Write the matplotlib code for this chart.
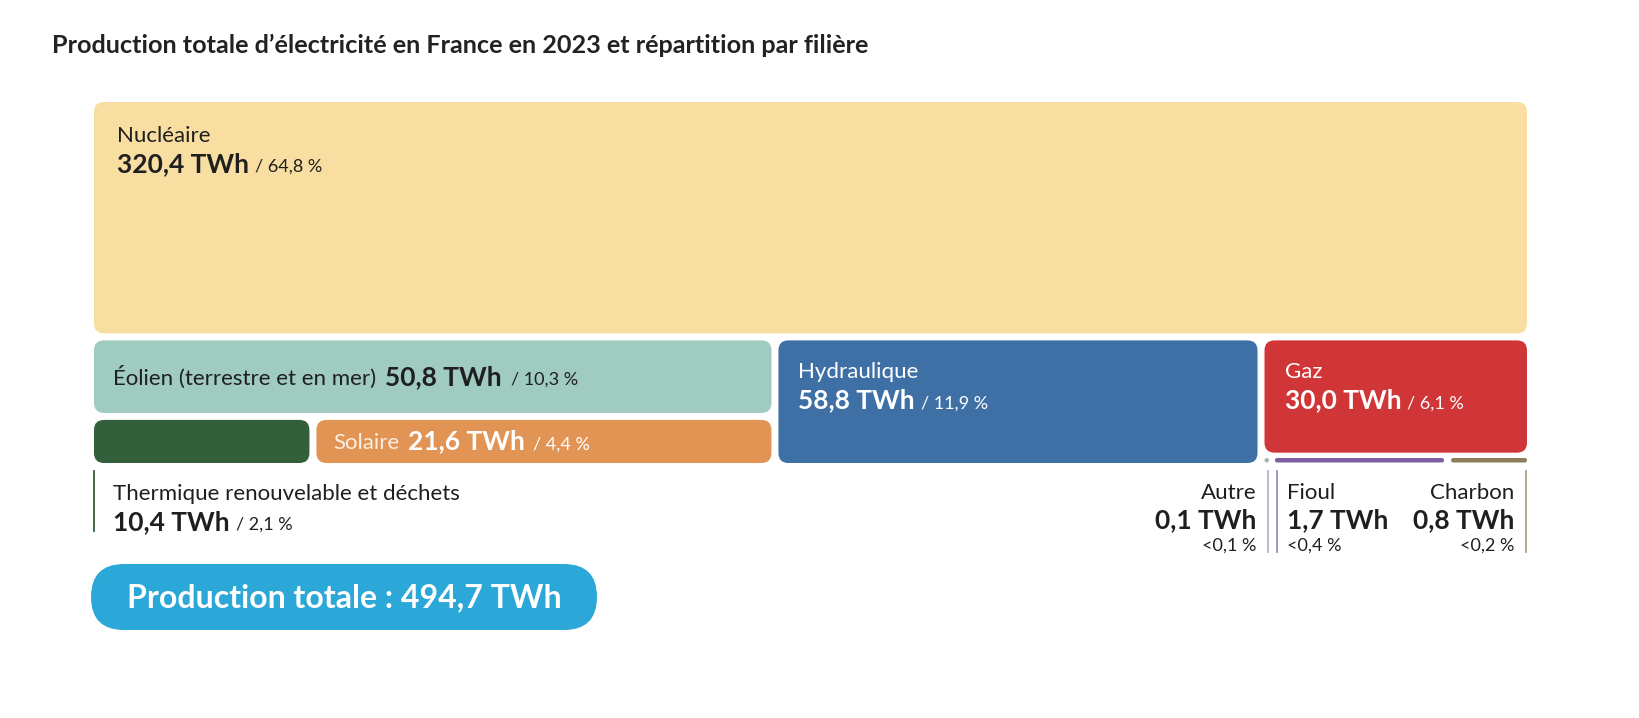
import matplotlib
matplotlib.use("Agg")
import matplotlib.pyplot as plt
from matplotlib.patches import FancyBboxPatch

plt.rcParams['font.family'] = ['Lato', 'DejaVu Sans']

# ---------------- data ----------------
filieres = ['Nucléaire', 'Éolien (terrestre et en mer)', 'Solaire',
            'Thermique renouvelable et déchets', 'Hydraulique', 'Gaz',
            'Autre', 'Fioul', 'Charbon']
twh = [320.4, 50.8, 21.6, 10.4, 58.8, 30.0, 0.1, 1.7, 0.8]
parts = ['64,8 %', '10,3 %', '4,4 %', '2,1 %', '11,9 %', '6,1 %',
         '<0,1 %', '<0,4 %', '<0,2 %']
total_twh = 494.7
title = "Production totale d’électricité en France en 2023 et répartition par filière"
colors = ['#F8DFA1', '#9FCBC0', '#E29455', '#33603A', '#3E70A5', '#D03537',
          '#A9B4BE', '#7E5FA3', '#8B7C5A']

V = dict(zip(filieres, twh))
P = dict(zip(filieres, parts))
C = dict(zip(filieres, colors))

def fmt(v):
    return f"{v:.1f}".replace('.', ',') + " TWh"

# ---------------- figure ----------------
W_PX, H_PX = 1640, 718
fig = plt.figure(figsize=(W_PX / 100, H_PX / 100), dpi=100)
ax = fig.add_axes([0, 0, 1, 1])
ax.set_xlim(0, W_PX)
ax.set_ylim(H_PX, 0)
ax.axis('off')
renderer = fig.canvas.get_renderer()

DARK = '#1f1f1f'
GAP = 7
R = 10
X0, X1, Y0, Y1 = 94, 1527, 102, 463
ox0, ox1, oy0, oy1 = X0 - GAP / 2, X1 + GAP / 2, Y0 - GAP / 2, Y1 + GAP / 2

total = sum(twh)
rects = {}
# Nuclear row
nuc = V['Nucléaire']
h_nuc = (oy1 - oy0) * nuc / total
rects['Nucléaire'] = (ox0, oy0, ox1 - ox0, h_nuc)
ry0 = oy0 + h_nuc
rh = oy1 - ry0
groups = [['Éolien (terrestre et en mer)', 'Thermique renouvelable et déchets', 'Solaire'],
          ['Hydraulique'],
          ['Gaz', 'Autre', 'Fioul', 'Charbon']]
gsum = [sum(V[k] for k in g) for g in groups]
x = ox0
gboxes = []
for g, s in zip(groups, gsum):
    w = (ox1 - ox0) * s / sum(gsum)
    gboxes.append((x, ry0, w, rh))
    x += w
# renewables
gx, gy, gw, gh = gboxes[0]
h1 = gh * V['Éolien (terrestre et en mer)'] / gsum[0]
rects['Éolien (terrestre et en mer)'] = (gx, gy, gw, h1)
sub = V['Thermique renouvelable et déchets'] + V['Solaire']
w1 = gw * V['Thermique renouvelable et déchets'] / sub
rects['Thermique renouvelable et déchets'] = (gx, gy + h1, w1, gh - h1)
rects['Solaire'] = (gx + w1, gy + h1, gw - w1, gh - h1)
rects['Hydraulique'] = gboxes[1]
# fossil
gx, gy, gw, gh = gboxes[2]
h1 = gh * V['Gaz'] / gsum[2]
rects['Gaz'] = (gx, gy, gw, h1)
sub = V['Autre'] + V['Fioul'] + V['Charbon']
xx = gx
for k in ['Autre', 'Fioul', 'Charbon']:
    w = gw * V[k] / sub
    rects[k] = (xx, gy + h1, w, gh - h1)
    xx += w

inner = {}
for k, (x, y, w, h) in rects.items():
    inner[k] = (x + GAP / 2, y + GAP / 2, w - GAP, h - GAP)

for k in ['Nucléaire', 'Éolien (terrestre et en mer)', 'Thermique renouvelable et déchets',
          'Solaire', 'Hydraulique', 'Gaz']:
    x, y, w, h = inner[k]
    ax.add_patch(FancyBboxPatch((x, y), w, h, boxstyle=f"round,pad=0,rounding_size={R}",
                                facecolor=C[k], edgecolor='none'))
# thin strip (small values)
SH = 4.5
for k in ['Autre', 'Fioul', 'Charbon']:
    x, y, w, h = inner[k]
    ww = max(w, SH)
    ax.add_patch(FancyBboxPatch((x, Y1 - SH - 0.5), ww, SH,
                                boxstyle=f"round,pad=0,rounding_size={SH / 2}",
                                facecolor=C[k], edgecolor='none'))


def runs(x, y, segs, ha='left', gap=6):
    """Draw text segments on one baseline. segs: (text, size, weight, color)."""
    arts = []
    widths = []
    for t, s, wgt, col in segs:
        a = ax.text(0, y, t, fontsize=s, fontweight=wgt, color=col, va='baseline', ha='left')
        bb = a.get_window_extent(renderer=renderer)
        arts.append(a)
        widths.append(bb.width)
    tot = sum(widths) + gap * (len(segs) - 1)
    cx = x - tot if ha == 'right' else x
    for a, w in zip(arts, widths):
        a.set_x(cx)
        cx += w + gap
    return arts

NS, VS, PS = 16, 19, 13

# Nucléaire
x, y, w, h = inner['Nucléaire']
runs(x + 23, y + 40, [('Nucléaire', NS, 'normal', DARK)])
runs(x + 23, y + 70, [(fmt(V['Nucléaire']), VS, 'bold', DARK), ('/ ' + P['Nucléaire'], PS, 'normal', DARK)])

# Éolien
k = 'Éolien (terrestre et en mer)'
x, y, w, h = inner[k]
runs(x + 19, y + h / 2 + 8, [(k, NS, 'normal', DARK), (fmt(V[k]), VS, 'bold', DARK),
                             ('/ ' + P[k], PS, 'normal', DARK)], gap=9)

# Solaire
k = 'Solaire'
x, y, w, h = inner[k]
runs(x + 17, y + h / 2 + 8, [(k, NS, 'normal', '#fbeee2'), (fmt(V[k]), VS, 'bold', 'white'),
                             ('/ ' + P[k], PS, 'normal', 'white')], gap=8)

# Hydraulique & Gaz
for k in ['Hydraulique', 'Gaz']:
    x, y, w, h = inner[k]
    runs(x + 20, y + 38, [(k, NS, 'normal', 'white')])
    runs(x + 20, y + 68, [(fmt(V[k]), VS, 'bold', 'white'), ('/ ' + P[k], PS, 'normal', 'white')])

# Thermique (outside label)
k = 'Thermique renouvelable et déchets'
x, y, w, h = inner[k]
ax.plot([x, x], [Y1 + 8, Y1 + 68], color=C[k], lw=1.3)
runs(x + 19, Y1 + 37, [(k, NS, 'normal', DARK)])
runs(x + 19, Y1 + 67, [(fmt(V[k]), VS, 'bold', DARK), ('/ ' + P[k], PS, 'normal', DARK)])

# Autre / Fioul / Charbon
line_cols = {'Autre': '#B9B2D2', 'Fioul': '#9D8CC3', 'Charbon': '#B0A283'}
xa, _, wa, _ = inner['Autre']
ax.plot([xa + wa / 2 + 2, xa + wa / 2 + 2], [Y1 + 8, Y1 + 89], color=line_cols['Autre'], lw=1.3)
xf, _, wf, _ = inner['Fioul']
ax.plot([xf + 2, xf + 2], [Y1 + 8, Y1 + 89], color=line_cols['Fioul'], lw=1.3)
xc, _, wc, _ = inner['Charbon']
ax.plot([xc + wc - 1, xc + wc - 1], [Y1 + 8, Y1 + 89], color=line_cols['Charbon'], lw=1.3)

for k, xpos, ha in [('Autre', xa + wa / 2 - 10, 'right'), ('Fioul', xf + 12, 'left'),
                    ('Charbon', xc + wc - 13, 'right')]:
    runs(xpos, Y1 + 36, [(k, NS, 'normal', DARK)], ha=ha)
    runs(xpos, Y1 + 65, [(fmt(V[k]), VS, 'bold', DARK)], ha=ha)
    runs(xpos, Y1 + 88, [(P[k], PS, 'normal', DARK)], ha=ha)

# Total pill
px0, px1, py0, py1 = 91, 597, 564, 630
ph = py1 - py0
ax.add_patch(FancyBboxPatch((px0, py0), px1 - px0, ph,
                            boxstyle=f"round,pad=0,rounding_size={ph / 2}",
                            facecolor='#2BA7D8', edgecolor='none'))
ax.text((px0 + px1) / 2, (py0 + py1) / 2 + 1,
        "Production totale : " + f"{total_twh:.1f}".replace('.', ',') + " TWh",
        fontsize=23, fontweight='bold', color='white', ha='center', va='center')

# Title
ax.text(52, 45, title, fontsize=18.2, fontweight='bold', color='#222222', ha='left', va='center')

fig.savefig('out.png', dpi=100, facecolor='white')
